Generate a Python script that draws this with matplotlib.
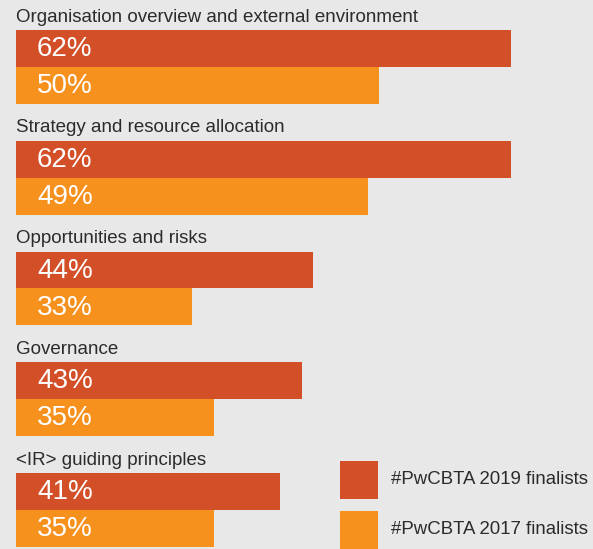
import matplotlib
matplotlib.use("Agg")
from matplotlib import pyplot as plt
from matplotlib.patches import Rectangle

# Chart data
categories = [
    "Organisation overview and external environment",
    "Strategy and resource allocation",
    "Opportunities and risks",
    "Governance",
    "<IR> guiding principles",
]
finalists_2019 = [62, 62, 44, 43, 41]
finalists_2017 = [50, 49, 33, 35, 35]
series_names = ["#PwCBTA 2019 finalists", "#PwCBTA 2017 finalists"]

# Styling
BG = "#e8e8e8"
RED = "#d34f28"
ORANGE = "#f7911e"
TEXT = "#2b2b2b"
W, H = 593, 549
plt.rcParams["font.family"] = ["Liberation Sans", "DejaVu Sans"]

fig = plt.figure(figsize=(W / 100, H / 100), dpi=100, facecolor=BG)
# The source chart uses a truncated value axis, bars start at the left edge
ax = fig.add_axes([16 / W, 0, 1 - 16 / W, 1])
ax.set_facecolor(BG)
trans = ax.get_yaxis_transform()

# Each group takes three rows: label, 2019 bar, 2017 bar
for i, name in enumerate(categories):
    base = 3 * i
    ax.barh(base + 1, finalists_2019[i], height=1.0, color=RED)
    ax.barh(base + 2, finalists_2017[i], height=1.0, color=ORANGE)
    ax.text(0, base + 0.15, name, transform=trans, fontsize=13.5,
            color=TEXT, va="center", ha="left", clip_on=False)
    ax.text(0.0364, base + 1.02, f"{finalists_2019[i]}%", transform=trans,
            fontsize=20, color="white", va="center", ha="left")
    ax.text(0.0364, base + 2.02, f"{finalists_2017[i]}%", transform=trans,
            fontsize=20, color="white", va="center", ha="left")

ax.set_xlim(17, 17 + 577 / 11)
ax.set_ylim(14.56, -0.314)
ax.axis("off")

# Legend in the lower right corner
for k, (name, col) in enumerate(zip(series_names, [RED, ORANGE])):
    top = 461 + 50 * k
    fig.add_artist(Rectangle((340 / W, 1 - (top + 38) / H), 38 / W, 38 / H,
                             transform=fig.transFigure, facecolor=col,
                             edgecolor="none"))
    fig.text(391 / W, 1 - (top + 19) / H, name, fontsize=13.4, color=TEXT,
             va="center", ha="left")

fig.savefig("out.png", dpi=100, facecolor=BG)
